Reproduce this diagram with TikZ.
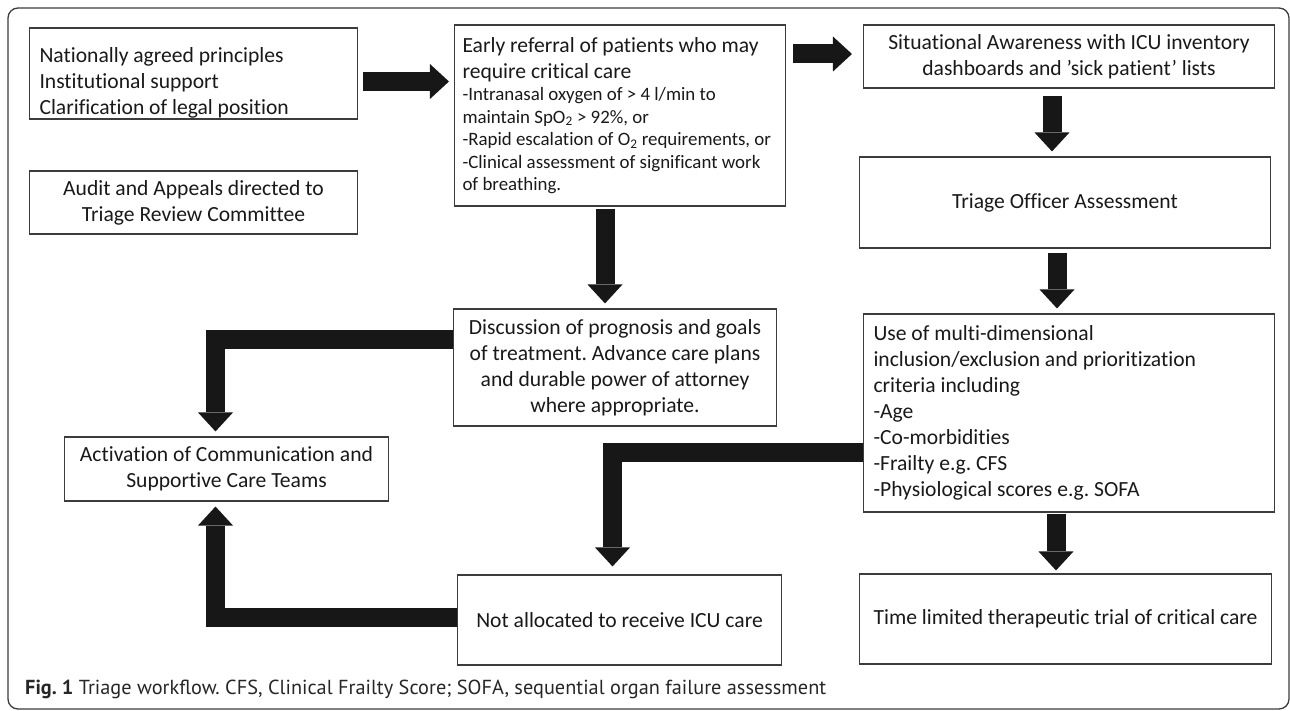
\documentclass[tikz,border=0pt]{standalone}
\usepackage{fontspec}
\setmainfont{Carlito}[Ligatures=NoCommon]
\newfontfamily\capfont{PT Sans}
\usetikzlibrary{arrows.meta, calc}
\frenchspacing
\newcommand{\boxtxt}{\fontsize{21.6}{26}\selectfont}
\newcommand{\smalltxt}{\fontsize{18.9}{22.5}\selectfont}
\newcommand{\captxt}{\capfont\fontsize{20.3}{24}\selectfont}
\definecolor{boxline}{HTML}{3C3C3C}
\definecolor{arrowfill}{HTML}{171717}
\tikzset{
    block/.style={rectangle, draw=boxline, line width=1.1pt, text=black!90, font=\boxtxt, inner ysep=3pt},
    lblock/.style={block, align=flush left, inner xsep=10pt},
    cblock/.style={block, align=flush center, inner xsep=5pt},
    fat/.style={line width=19pt, draw=arrowfill, -{Triangle[width=35pt, length=19pt, line width=0pt]}}
}

\begin{document}
\begin{tikzpicture}[x=1pt, y=-1pt]
    \useasboundingbox (0,0) rectangle (1290,711);
    \draw[line width=1.3pt, draw=boxline, rounded corners=10pt] (8,8) rectangle (1289,709);

    % left column
    \node[lblock, text width=308pt, inner ysep=0pt, minimum height=91pt] (nat) at (193.5,73.5) {\rule{0pt}{34pt}Nationally agreed principles\\Institutional support\\Clarification of legal position};
    \node[cblock, text width=318pt, minimum height=63pt] (audit) at (193.5,202.5) {Audit and Appeals directed to\\Triage Review Committee};
    \node[cblock, text width=314pt, minimum height=64pt] (act) at (226.5,469) {Activation of Communication and\\Supportive Care Teams};

    % middle column
    \node[lblock, text width=315pt, inner xsep=8pt, minimum height=181pt] (early) at (620,115.5) {Early referral of patients who may\\require critical care\par
        {\smalltxt -Intranasal oxygen of > 4 l/min to\\maintain SpO\textsubscript{2} > 92\%, or\\-Rapid escalation of O\textsubscript{2} requirements, or\\-Clinical assessment of significant work\\of breathing.\par}};
    \node[cblock, text width=313pt, minimum height=117pt] (disc) at (615,367.5) {Discussion of prognosis and goals\\of treatment. Advance care plans\\and durable power of attorney\\where appropriate.};
    \node[cblock, text width=314pt, minimum height=90pt] (notal) at (619.5,620) {Not allocated to receive ICU care};

    % right column
    \node[cblock, text width=401pt, minimum height=63pt] (sit) at (1069,56.5) {Situational Awareness with ICU inventory\\dashboards and ’sick patient’ lists};
    \node[cblock, text width=401pt, minimum height=91pt] (tri) at (1065,202.5) {Triage Officer Assessment};
    \node[lblock, text width=391pt, minimum height=198pt] (use) at (1069,413) {Use of multi-dimensional\\inclusion/exclusion and prioritization\\criteria including\\-Age\\-Co-morbidities\\-Frailty e.g. CFS\\-Physiological scores e.g. SOFA};
    \node[cblock, text width=402pt, minimum height=90pt] (time) at (1065.5,619) {Time limited therapeutic trial of critical care};

    \node[anchor=west, font=\captxt, text=black!85, inner sep=0pt] (cap) at (25,689) {\textbf{Fig. 1} Triage workflow. CFS, Clinical Frailty Score; SOFA, sequential organ failure assessment};

    % arrows
    \draw[fat] ($(nat.east)+(5,8)$) -- ($(early.west |- nat.east)+(-5,8)$);
    \draw[fat] ($(early.east |- sit.west)+(7,-2.5)$) -- ($(sit.west)+(-11,-2.5)$);
    \draw[fat] ($(sit.south)+(-17,7)$) -- ($(sit.south |- tri.north)+(-17,-5)$);
    \draw[fat] ($(tri.south)+(-8,4)$) -- ($(tri.south |- use.north)+(-8,-5)$);
    \draw[fat] ($(use.south)+(-13,1)$) -- ($(use.south |- time.north)+(-13,-3)$);
    \draw[fat] ($(early.south)+(-15,2)$) -- ($(early.south |- disc.north)+(-15,-5)$);
    \draw[fat] ($(disc.west)+(0,-28)$) -| ($(act.north)+(-11,-5)$);
    \draw[fat] ($(use.west)+(0,39.5)$) -| ($(notal.north)+(-7,-8)$);
    \draw[fat] ($(notal.west)+(0,-3)$) -| ($(act.south)+(-11,5)$);
\end{tikzpicture}
\end{document}
